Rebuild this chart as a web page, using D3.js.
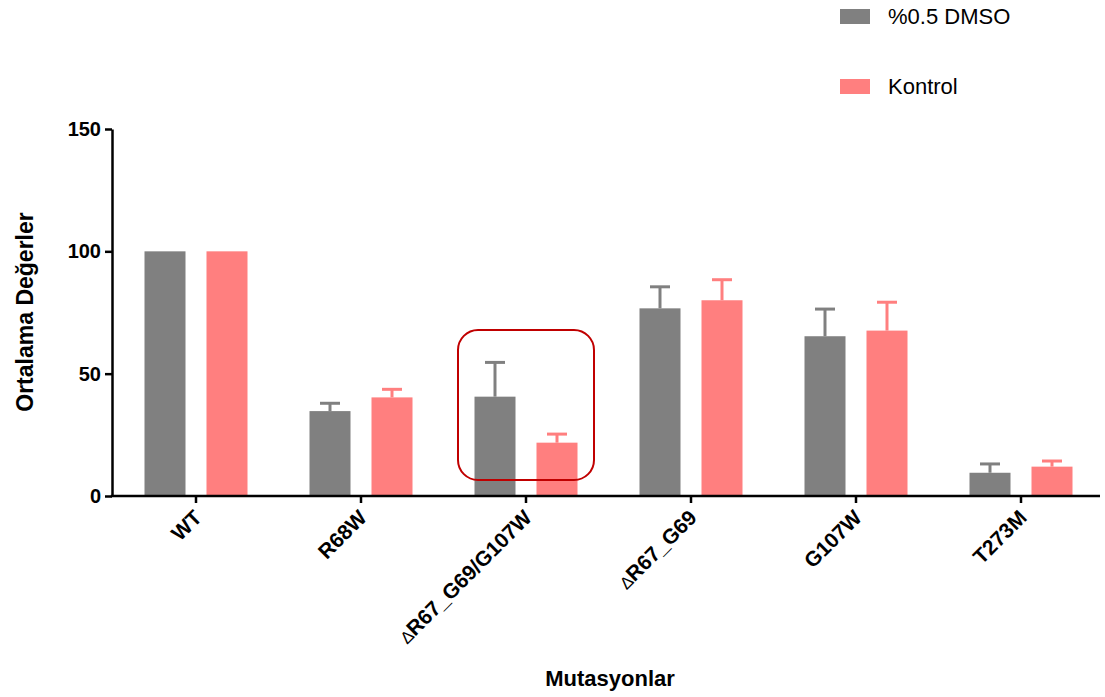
<!DOCTYPE html>
<html><head><meta charset="utf-8">
<script src="https://cdn.jsdelivr.net/npm/d3@7"></script>
<style>body{margin:0;background:#fff}svg{display:block}text{font-family:"Liberation Sans",Arial,sans-serif}</style>
</head><body><svg id="c" width="1105" height="697"></svg>
<script>
const categories = ["WT","R68W","\u2206R67_G69/G107W","\u2206R67_G69","G107W","T273M"];
const seriesNames = ["%0.5 DMSO","Kontrol"];
const dmsoValues = [100, 34.7, 40.6, 76.7, 65.3, 9.5];
const dmsoErrors = [0, 3.2, 14.0, 8.8, 11.1, 3.6];
const kontrolValues = [100, 40.3, 21.8, 80.0, 67.6, 12.0];
const kontrolErrors = [0, 3.3, 3.5, 8.4, 11.6, 2.3];
const yTicks = [0, 50, 100, 150];
const colors = ["#808080", "#ff7f7f"];

const svg = d3.select("#c");
const x = d3.scaleBand().domain(categories).range([113.5, 1103.5]);
const y = d3.scaleLinear().domain([0,150]).range([496,129]);

const series = [
  {vals: dmsoValues, errs: dmsoErrors, color: colors[0]},
  {vals: kontrolValues, errs: kontrolErrors, color: colors[1]}
];
const bw = 41;
series.forEach((s, si) => {
  const off = si === 0 ? -31 : 31;
  const g = svg.append("g");
  categories.forEach((c, i) => {
    const cx = x(c) + x.bandwidth()/2 + off;
    g.append("rect").attr("x", cx - bw/2).attr("width", bw)
      .attr("y", y(s.vals[i])).attr("height", y(0) - y(s.vals[i])).attr("fill", s.color);
    if (s.errs[i] > 0) {
      const top = y(s.vals[i] + s.errs[i]);
      g.append("line").attr("x1", cx).attr("x2", cx).attr("y1", y(s.vals[i])).attr("y2", top)
        .attr("stroke", s.color).attr("stroke-width", 3);
      g.append("line").attr("x1", cx - 10).attr("x2", cx + 10).attr("y1", top).attr("y2", top)
        .attr("stroke", s.color).attr("stroke-width", 3);
    }
  });
});

// axes
const yAxis = svg.append("g").attr("transform","translate(112,0)")
  .call(d3.axisLeft(y).tickValues(yTicks).tickSize(7).tickSizeOuter(0).tickPadding(4));
yAxis.select(".domain").attr("stroke","#000").attr("stroke-width",2.5);
yAxis.selectAll(".tick line").attr("stroke","#000").attr("stroke-width",2.5);
yAxis.selectAll("text").attr("font-size",20).attr("font-weight","bold").attr("fill","#000")
  .style("font-family","'Liberation Sans',Arial,sans-serif");

const xAxis = svg.append("g").attr("transform","translate(0,496)")
  .call(d3.axisBottom(x).tickSize(7).tickSizeOuter(0));
xAxis.select(".domain").attr("stroke","#000").attr("stroke-width",2.5).attr("d","M110.8,0H1100");
xAxis.selectAll(".tick line").attr("stroke","#000").attr("stroke-width",2.5);
xAxis.selectAll("text").attr("font-size",21).attr("font-weight","bold").attr("fill","#000")
  .style("font-family","'Liberation Sans',Arial,sans-serif")
  .attr("text-anchor","end").attr("dy",0).attr("y",0)
  .attr("transform","translate(7,23) rotate(-45)")
  .each(function(d){
    if (d.startsWith("\u2206")) {
      const t = d3.select(this).text(null);
      t.append("tspan").attr("font-weight","normal").attr("font-size",17).text("\u2206");
      t.append("tspan").text(d.slice(1));
    }
  });

// titles
svg.append("text").attr("transform","translate(33,312) rotate(-90)").attr("text-anchor","middle")
  .attr("font-size",23).attr("font-weight","bold").text("Ortalama De\u011ferler");
svg.append("text").attr("x",610).attr("y",686).attr("text-anchor","middle")
  .attr("font-size",22).attr("font-weight","bold").text("Mutasyonlar");

// legend
seriesNames.forEach((n,i) => {
  const ly = i === 0 ? 9 : 79;
  svg.append("rect").attr("x",840).attr("y",ly).attr("width",30).attr("height",15).attr("fill",colors[i]);
  svg.append("text").attr("x",888).attr("y",ly+15).attr("font-size",22).attr("fill","#000").text(n);
});

// highlight box
const hc = categories[2];
svg.append("rect").attr("x", x(hc) + x.bandwidth()/2 - 68).attr("y", 330)
  .attr("width",136).attr("height",150).attr("rx",20).attr("ry",20)
  .attr("fill","none").attr("stroke","#c00000").attr("stroke-width",2);
</script></body></html>
